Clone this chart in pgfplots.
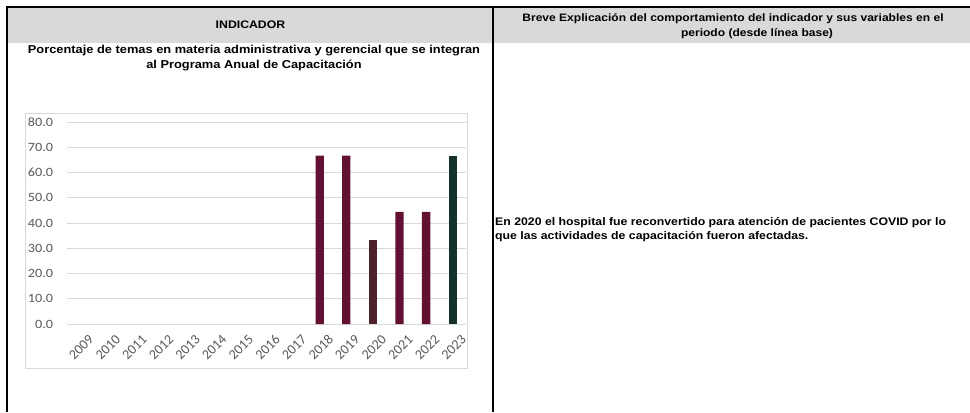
\documentclass[border=0pt]{standalone}
\usepackage{pgfplots}
\pgfplotsset{compat=1.18}
\usepackage{fontspec}
\setmainfont{Liberation Sans}
\newfontfamily\carlito{Carlito}
\definecolor{headgray}{HTML}{D9D9D9}
\definecolor{gridgray}{HTML}{D9D9D9}
\definecolor{framegray}{HTML}{D9D9D9}
\definecolor{tickgray}{HTML}{595959}
\definecolor{maroon}{HTML}{621132}
\definecolor{darkmaroon}{HTML}{4D2129}
\definecolor{dkgreen}{HTML}{13322B}
\begin{document}
\begin{tikzpicture}[x=1bp,y=1bp]
\useasboundingbox (0,0) rectangle (970,412);
\fill[headgray] (7,405) rectangle (970,369);
\draw[line width=1.2bp] (7,0) -- (7,405) -- (970,405);
\draw[line width=1.2bp] (493,405) -- (493,0);
\node[font=\bfseries\fontsize{11}{13}\selectfont, xscale=1.12] at (250.5,387) {INDICADOR};
\node[font=\bfseries\fontsize{11.5}{13}\selectfont, xscale=1.12] at (254,361.5) {Porcentaje de temas en materia administrativa y gerencial que se integran};
\node[font=\bfseries\fontsize{11.5}{13}\selectfont, xscale=1.12] at (254,346.5) {al Programa Anual de Capacitación};
\node[font=\bfseries\fontsize{10.8}{13}\selectfont, xscale=1.12] at (733,393) {Breve Explicación del comportamiento del indicador y sus variables en el};
\node[font=\bfseries\fontsize{10.8}{13}\selectfont, xscale=1.12] at (757,378) {periodo (desde línea base)};
\node[font=\bfseries\fontsize{11}{13}\selectfont, xscale=1.12, anchor=west, inner sep=0pt] at (495,189.5) {En 2020 el hospital fue reconvertido para atención de pacientes COVID por lo};
\node[font=\bfseries\fontsize{11}{13}\selectfont, xscale=1.12, anchor=west, inner sep=0pt] at (495,175) {que las actividades de capacitación fueron afectadas.};
\draw[framegray, line width=0.9bp] (25,299) rectangle (467,44);
\begin{axis}[
  at={(67bp,88bp)}, anchor=south west, scale only axis,
  width=399bp, height=202bp,
  xmin=-0.5, xmax=14.5, ymin=0, ymax=80,
  ytick={0,10,...,80},
  xtick={0,1,2,3,4,5,6,7,8,9,10,11,12,13,14},
  xticklabels={2009,2010,2011,2012,2013,2014,2015,2016,2017,2018,2019,2020,2021,2022,2023},
  ymajorgrids, grid style={gridgray, line width=0.9bp},
  axis line style={draw=none},
  major tick length=0pt,
  tick label style={text=tickgray},
  yticklabel style={font=\carlito\fontsize{12.7}{13}\selectfont, anchor=east, xshift=-10bp, xscale=1.12},
  xticklabel style={font=\carlito\fontsize{14}{14}\selectfont, rotate=45, anchor=north east, xshift=2bp, yshift=-9bp},
  /pgf/number format/.cd, fixed, fixed zerofill, precision=1, assume math mode=true,
  /pgfplots/.cd,
]
\addplot[ybar, bar width=8.3bp, bar shift=0pt, fill=maroon, draw=none] coordinates {(9,66.7) (10,66.7) (12,44.4) (13,44.4)};
\addplot[ybar, bar width=8.3bp, bar shift=0pt, fill=darkmaroon, draw=none] coordinates {(11,33.3)};
\addplot[ybar, bar width=8.3bp, bar shift=0pt, fill=dkgreen, draw=none] coordinates {(14,66.7)};
\end{axis}
\end{tikzpicture}
\end{document}
